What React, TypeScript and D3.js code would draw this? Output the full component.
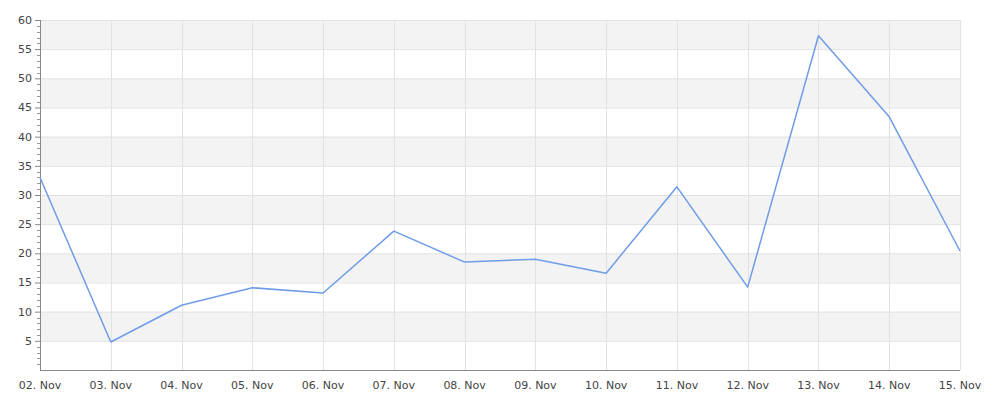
import React from "react";
import * as d3 from "d3";

const dates = ["02. Nov", "03. Nov", "04. Nov", "05. Nov", "06. Nov", "07. Nov", "08. Nov", "09. Nov", "10. Nov", "11. Nov", "12. Nov", "13. Nov", "14. Nov", "15. Nov"];
const values = [33.0, 4.8, 11.1, 14.1, 13.2, 23.8, 18.5, 19.0, 16.6, 31.4, 14.2, 57.3, 43.4, 20.4];
const yTicks = [5, 10, 15, 20, 25, 30, 35, 40, 45, 50, 55, 60];

const W = 1000, H = 400;
const left = 40, right = 960, top = 20, bottom = 370;

export default function App() {
  const x = d3.scalePoint<string>().domain(dates).range([left, right]);
  const y = d3.scaleLinear().domain([0, 60]).range([bottom, top]);
  const line = d3.line<number>().x((_, i) => x(dates[i])!).y((v) => y(v));
  const bands = d3.range(0, 60, 10).map((b) => [b + 5, b + 10]);
  const minor = d3.range(1, 60).filter((v) => v % 5 !== 0);
  const font = "'DejaVu Sans', sans-serif";
  return (
    <svg width={W} height={H} style={{ position: "absolute", left: 0, top: 0 }}>
      <rect width={W} height={H} fill="#fff" />
      {bands.map(([a, b]) => (
        <rect key={a} x={left} width={right - left} y={y(b)} height={y(a) - y(b)} fill="#f3f3f3" />
      ))}
      {yTicks.map((t) => (
        <line key={t} x1={left} x2={right} y1={y(t) + 0.5} y2={y(t) + 0.5} stroke="#e2e2e2" />
      ))}
      {dates.slice(1).map((d) => (
        <line key={d} x1={Math.round(x(d)!) + 0.5} x2={Math.round(x(d)!) + 0.5} y1={top} y2={bottom} stroke="#e2e2e2" />
      ))}
      {/* y axis */}
      <line x1={left + 0.5} x2={left + 0.5} y1={top} y2={bottom} stroke="#888" />
      {yTicks.map((t) => (
        <line key={"mj" + t} x1={left - 5} x2={left} y1={y(t) + 0.5} y2={y(t) + 0.5} stroke="#888" />
      ))}
      {minor.map((t) => (
        <line key={"mn" + t} x1={left - 3} x2={left} y1={Math.round(y(t)) + 0.5} y2={Math.round(y(t)) + 0.5} stroke="#999" />
      ))}
      {yTicks.map((t) => (
        <text key={"l" + t} x={left - 8} y={y(t)} dy="0.35em" textAnchor="end" fontFamily={font} fontSize={11} fill="#444">
          {t}
        </text>
      ))}
      {/* x axis */}
      <line x1={left} x2={right} y1={bottom + 0.5} y2={bottom + 0.5} stroke="#888" />
      {dates.map((d) => (
        <text key={"x" + d} x={x(d)!} y={bottom + 19} textAnchor="middle" fontFamily={font} fontSize={11} fill="#444">
          {d}
        </text>
      ))}
      <path d={line(values)!} fill="none" stroke="#6f9ce8" strokeWidth={1.5} strokeLinejoin="round" />
    </svg>
  );
}
